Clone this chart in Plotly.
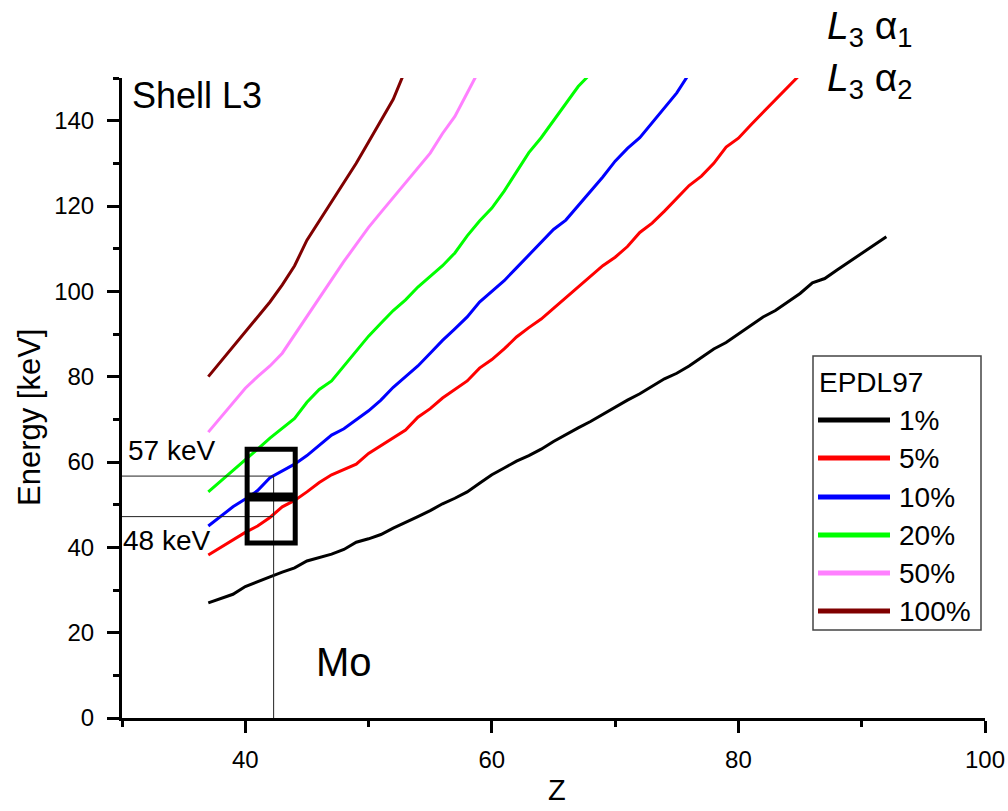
import plotly.graph_objects as go

# ---------------- data ----------------
Z_START = 37
e_1pct = [27.0, 28.0, 29.0, 30.8, 32.0, 33.1, 34.2, 35.2, 36.8, 37.6, 38.4, 39.5, 41.2, 42.0,
          43.0, 44.5, 45.8, 47.2, 48.6, 50.2, 51.5, 53.0, 55.0, 57.0, 58.6, 60.2, 61.5, 63.0,
          64.8, 66.5, 68.0, 69.5, 71.2, 73.0, 74.5, 76.0, 77.8, 79.5, 80.8, 82.5, 84.5, 86.5,
          88.0, 90.0, 92.0, 94.0, 95.5, 97.5, 99.5, 102.0, 103.0, 105.0, 107.0, 108.8, 110.8, 112.8]
e_5pct = [38.2, 40.0, 41.8, 43.5, 45.0, 47.0, 49.5, 51.0, 53.0, 55.2, 57.0, 58.2, 59.5, 62.0,
          63.8, 65.5, 67.5, 70.5, 72.5, 75.0, 77.0, 79.0, 82.0, 84.0, 86.5, 89.3, 91.5, 93.5,
          96.0, 98.5, 101.0, 103.5, 106.0, 108.0, 110.5, 113.8, 116.0, 118.8, 121.8, 124.8,
          127.0, 130.0, 133.8, 135.9, 139.0, 142.0, 145.0, 148.0, 150.8]
e_10pct = [45.0, 47.2, 49.5, 51.3, 53.3, 56.3, 58.0, 59.5, 61.5, 63.8, 66.3, 67.8, 69.8, 72.0,
           74.5, 77.5, 80.0, 82.5, 85.5, 88.5, 91.2, 94.0, 97.5, 100.0, 102.5, 105.5, 108.5,
           111.5, 114.5, 116.7, 120.0, 123.5, 126.8, 130.5, 133.5, 136.0, 139.5, 143.0, 146.5, 151.0]
e_20pct = [53.0, 55.5, 57.8, 60.3, 63.0, 65.6, 68.0, 70.2, 74.0, 77.0, 79.0, 82.5, 86.2, 89.5,
           92.5, 95.5, 98.0, 101.0, 103.5, 106.0, 109.0, 113.0, 116.5, 119.5, 123.5, 128.0,
           132.5, 136.0, 140.0, 144.0, 148.0, 151.0]
e_50pct = [67.0, 70.5, 73.8, 77.3, 80.0, 82.5, 85.5, 89.8, 94.0, 98.5, 102.5, 107.0, 111.0,
           115.0, 118.5, 122.0, 125.5, 129.0, 132.4, 137.0, 141.0, 146.5, 152.0]
e_100pct = [80.0, 83.5, 87.0, 90.3, 93.8, 97.5, 101.5, 106.0, 112.0, 116.5, 121.0, 125.5,
            130.0, 135.0, 140.0, 145.0, 152.0]

series_names = ["1%", "5%", "10%", "20%", "50%", "100%"]
series_values = [e_1pct, e_5pct, e_10pct, e_20pct, e_50pct, e_100pct]
series_colors = ["#000000", "#FF0000", "#0000FF", "#00FF00", "#FF80FF", "#800000"]

x_tick_values = [40, 60, 80, 100]
y_tick_values = [0, 20, 40, 60, 80, 100, 120, 140]

# Mo markers
mo_z = 42.3
mo_e_high = 56.7
mo_e_low = 47.2
box_z = [40.15, 44.05]
box_e = [41.0, 63.0]
box_mid_e = 51.8

FONT = "Liberation Sans, Arial, sans-serif"

# ---------------- figure ----------------
fig = go.Figure()
for name, vals, col in zip(series_names, series_values, series_colors):
    zs = list(range(Z_START, Z_START + len(vals)))
    fig.add_trace(go.Scatter(x=zs, y=vals, mode="lines", name=name,
                             line=dict(color=col, width=3), showlegend=False,
                             cliponaxis=True))

# plot area in pixels
L, R, T, B = 122, 985, 78, 718
W, H = 1008, 811


def px(xp):
    return (xp - L) / (R - L)


def py(yp):
    return (B - yp) / (B - T)


shapes = []
# guide lines
shapes.append(dict(type="line", xref="x", yref="y", x0=30, x1=mo_z, y0=mo_e_high, y1=mo_e_high,
                   line=dict(color="#222222", width=1)))
shapes.append(dict(type="line", xref="x", yref="y", x0=30, x1=mo_z, y0=mo_e_low, y1=mo_e_low,
                   line=dict(color="#222222", width=1)))
shapes.append(dict(type="line", xref="x", yref="y", x0=mo_z, x1=mo_z, y0=0, y1=mo_e_high,
                   line=dict(color="#222222", width=1)))
# thick box
shapes.append(dict(type="rect", xref="x", yref="y", x0=box_z[0], x1=box_z[1], y0=box_e[0], y1=box_e[1],
                   line=dict(color="black", width=5)))
shapes.append(dict(type="line", xref="x", yref="y", x0=box_z[0], x1=box_z[1], y0=box_mid_e, y1=box_mid_e,
                   line=dict(color="black", width=9)))

# manual legend
shapes.append(dict(type="rect", xref="paper", yref="paper", x0=px(813), x1=px(981), y0=py(630), y1=py(356),
                   line=dict(color="#444444", width=1.5), fillcolor="white", layer="above"))
legend_rows = [420, 458, 497, 535, 573, 611]
annotations = []
for name, col, yrow in zip(series_names, series_colors, legend_rows):
    shapes.append(dict(type="line", xref="paper", yref="paper", x0=px(818), x1=px(890), y0=py(yrow), y1=py(yrow),
                       line=dict(color=col, width=5)))
    annotations.append(dict(xref="paper", yref="paper", x=px(897), y=py(yrow), text=name, showarrow=False,
                            xanchor="left", yanchor="middle", font=dict(size=28, color="black", family=FONT)))
annotations.append(dict(xref="paper", yref="paper", x=px(817), y=py(382), text="EPDL97", showarrow=False,
                        xanchor="left", yanchor="middle", font=dict(size=28, color="black", family=FONT)))

# text labels
annotations.append(dict(xref="paper", yref="paper", x=px(130), y=py(96), text="Shell L3", showarrow=False,
                        xanchor="left", yanchor="middle", font=dict(size=36, color="black", family=FONT)))
annotations.append(dict(xref="paper", yref="paper", x=px(126), y=py(450), text="57 keV", showarrow=False,
                        xanchor="left", yanchor="middle", font=dict(size=28, color="black", family=FONT)))
annotations.append(dict(xref="paper", yref="paper", x=px(121), y=py(540), text="48 keV", showarrow=False,
                        xanchor="left", yanchor="middle", font=dict(size=28, color="black", family=FONT)))
annotations.append(dict(xref="paper", yref="paper", x=px(314), y=py(662), text="Mo", showarrow=False,
                        xanchor="left", yanchor="middle", font=dict(size=40, color="black", family=FONT)))
annotations.append(dict(xref="paper", yref="paper", x=px(825), y=py(29), text="<i>L</i><sub>3</sub> α<sub>1</sub>",
                        showarrow=False, xanchor="left", yanchor="middle",
                        font=dict(size=39, color="black", family=FONT)))
annotations.append(dict(xref="paper", yref="paper", x=px(825), y=py(80), text="<i>L</i><sub>3</sub> α<sub>2</sub>",
                        showarrow=False, xanchor="left", yanchor="middle",
                        font=dict(size=39, color="black", family=FONT)))
# axis titles (placed to match the reference)
annotations.append(dict(xref="paper", yref="paper", x=px(29), y=py(418), text="Energy [keV]", showarrow=False,
                        textangle=-90, xanchor="center", yanchor="middle",
                        font=dict(size=31, color="black", family=FONT)))
annotations.append(dict(xref="paper", yref="paper", x=px(557), y=py(790), text="Z", showarrow=False,
                        xanchor="center", yanchor="middle",
                        font=dict(size=29, color="black", family=FONT)))

axis_common = dict(showgrid=False, zeroline=False, showline=True, linecolor="black", linewidth=3,
                   ticks="outside", ticklen=12, tickwidth=3, tickcolor="black",
                   tickfont=dict(size=24, color="black", family=FONT), mirror=False)

fig.update_layout(
    width=W, height=H,
    margin=dict(l=L, r=W - R, t=T, b=H - B, autoexpand=False),
    plot_bgcolor="white", paper_bgcolor="white",
    showlegend=False,
    shapes=shapes, annotations=annotations,
    xaxis=dict(range=[30, 100], tickvals=x_tick_values, ticklabelstandoff=6,
               minor=dict(ticks="outside", ticklen=6, tickwidth=3, tickcolor="black", dtick=10, tick0=30),
               **axis_common),
    yaxis=dict(range=[0, 150], tickvals=y_tick_values, ticklabelstandoff=8,
               minor=dict(ticks="outside", ticklen=6, tickwidth=3, tickcolor="black", dtick=10, tick0=10),
               **axis_common),
)

fig.write_html("out.html")
